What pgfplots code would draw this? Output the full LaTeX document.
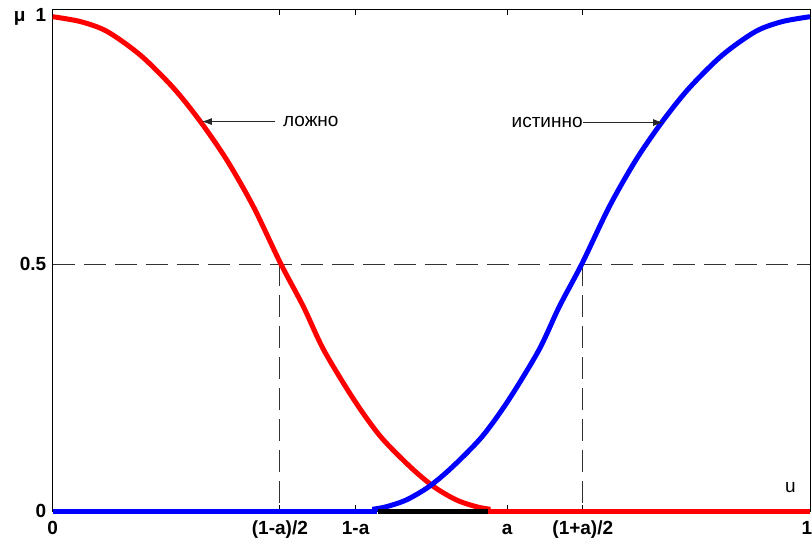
\documentclass[border=0pt]{standalone}
\usepackage{pgfplots}
\pgfplotsset{compat=1.18}
\usepackage{fontspec}
\setmainfont{Liberation Sans}
\usetikzlibrary{arrows.meta}
\begin{document}
\fontsize{19}{22}\selectfont
\begin{tikzpicture}
\begin{axis}[
 scale only axis, width=757.3pt, height=502pt,
 xmin=0, xmax=1, ymin=0, ymax=1.015,
 xtick={0,0.3,0.4,0.6,0.7,1},
 xticklabels={0,(1-a)/2,1-a,a,(1+a)/2,\hspace*{-6pt}1},
 ytick={0,0.5,1},
 yticklabels={0,0.5,{μ\hspace{10pt}1}},
 tick align=inside, major tick length=6pt,
 xtick pos=both, ytick pos=both,
 tick style={black, line width=0.8pt},
 ticklabel style={font=\fontsize{19}{22}\selectfont\bfseries},
 xticklabel style={yshift=-3pt, text height=14pt, text depth=4pt},
 /pgf/number format/assume math mode=true,
 axis line style={black, line width=0.8pt},
 clip=false,
]
% dashed guide lines
\addplot[black!80, line width=0.8pt, dash pattern=on 22pt off 9pt] coordinates {(0,0.5) (1,0.5)};
\addplot[black!80, line width=0.8pt, dash pattern=on 22pt off 9pt] coordinates {(0.3,0.5) (0.3,0)};
\addplot[black!80, line width=0.8pt, dash pattern=on 22pt off 9pt] coordinates {(0.7,0.5) (0.7,0)};
% false (red)
\addplot[red, line width=5pt, line join=round, smooth, tension=0.5] coordinates {
(0,1.0) (0.037,0.99) (0.072,0.97) (0.116,0.922) (0.16,0.855) (0.195,0.788)
(0.23,0.71) (0.265,0.616) (0.301,0.501) (0.331,0.414) (0.358,0.326)
(0.398,0.225) (0.433,0.151) (0.472,0.09) (0.503,0.050) (0.533,0.023)
(0.560,0.009) (0.578,0.004)};
\addplot[red, line width=5pt] coordinates {(0.575,0) (1,0)};
% true (blue)
\addplot[blue, line width=5pt] coordinates {(0,0) (0.428,0)};
\addplot[blue, line width=5pt, line join=round, smooth, tension=0.5] coordinates {
(0.422,0.004) (0.440,0.009) (0.467,0.023) (0.497,0.050) (0.528,0.09)
(0.567,0.151) (0.602,0.225) (0.642,0.326) (0.669,0.414) (0.699,0.501)
(0.735,0.616) (0.77,0.71) (0.805,0.788) (0.84,0.855) (0.884,0.922)
(0.928,0.97) (0.963,0.99) (1,1.0)};
% black segment
\addplot[black, line width=4.5pt] coordinates {(0.43,0) (0.575,0)};
% annotations
\draw[-{Latex[length=10pt,width=7pt]}, line width=0.8pt, black!85] (axis cs:0.294,0.788) -- (axis cs:0.197,0.788);
\node[anchor=west, inner sep=0pt] at (axis cs:0.304,0.788) {ложно};
\draw[-{Latex[length=10pt,width=7pt]}, line width=0.8pt, black!85] (axis cs:0.700,0.786) -- (axis cs:0.806,0.786);
\node[anchor=east, inner sep=0pt] at (axis cs:0.700,0.786) {истинно};
\node[inner sep=0pt] at (axis cs:0.974,0.047) {u};
\end{axis}
\pgfresetboundingbox
\useasboundingbox (-52.7pt,-33.7pt) rectangle (759.3pt,511.3pt);
\end{tikzpicture}
\end{document}
